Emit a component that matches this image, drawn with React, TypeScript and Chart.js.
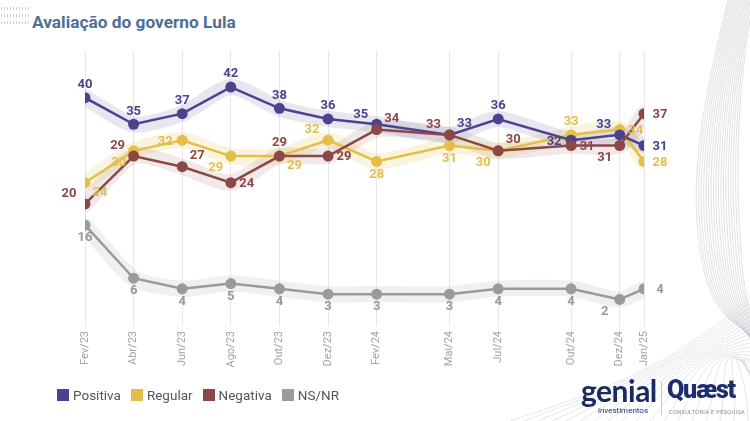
import React, { useEffect, useRef } from "react";
import { Chart, registerables } from "chart.js";
Chart.register(...registerables);

// ---- data ----
const monthIndex = [0, 2, 4, 6, 8, 10, 12, 15, 17, 20, 22, 23];
const tickLabels = ["Fev/23", "Abr/23", "Jun/23", "Ago/23", "Out/23", "Dez/23", "Fev/24", "Mai/24", "Jul/24", "Out/24", "Dez/24", "Jan/25"];
const positiva = [40, 35, 37, 42, 38, 36, 35, 33, 36, 32, 33, 31];
const regular = [24, 30, 32, 29, 29, 32, 28, 31, 30, 33, 34, 28];
const negativa = [20, 29, 27, 24, 29, 29, 34, 33, 30, 31, 31, 37];
const nsnr = [16, 6, 4, 5, 4, 3, 3, 3, 4, 4, 2, 4];

// label placement around each point (style)
const posLabelDir = ["n", "n", "n", "n", "n", "n", "nw", "ne", "n", "w", "nw", "e"];
const regLabelDir = ["se", "sw", "w", "sw", "se", "nw", "s", "s", "sw", "n", "e", "e"];
const negLabelDir = ["nw", "nw", "ne", "e", "n", "e", "ne", "nw", "ne", "e", "sw", "e"];
const nsLabelDir = ["s", "s", "s", "s", "s", "s", "s", "s", "s", "s", "sw", "e"];

const C_POS = "#4b438f";
const C_REG = "#e3bf48";
const C_NEG = "#8c4747";
const C_NS = "#9a9a9a";

const OFF: Record<string, [number, number]> = {
  n: [0, -13], s: [0, 13], e: [16, 1], w: [-17, 2],
  ne: [15, -11], nw: [-16, -10], se: [15, 10], sw: [-15, 12],
};

const toXY = (vals: number[]) => vals.map((v, i) => ({ x: monthIndex[i], y: v }));

const labelPlugin = {
  id: "pointLabels",
  afterDatasetsDraw(chart: any) {
    const ctx = chart.ctx;
    ctx.save();
    ctx.font = "bold 13px Roboto";
    ctx.textAlign = "center";
    ctx.textBaseline = "middle";
    chart.data.datasets.forEach((ds: any, di: number) => {
      if (!ds.labelDirs) return;
      const meta = chart.getDatasetMeta(di);
      meta.data.forEach((pt: any, i: number) => {
        const [dx, dy] = OFF[ds.labelDirs[i]];
        ctx.fillStyle = ds.labelColor;
        ctx.fillText(String(ds.data[i].y), pt.x + dx, pt.y + dy);
      });
    });
    ctx.restore();
  },
};

function band(data: number[], color: string) {
  return {
    data: toXY(data),
    borderColor: color,
    borderWidth: 16,
    borderJoinStyle: "round",
    borderCapStyle: "round",
    pointRadius: 0,
    tension: 0.25,
    order: 10,
  };
}

function line(data: number[], color: string, dirs: string[], order: number, labelColor?: string) {
  return {
    data: toXY(data),
    borderColor: color,
    backgroundColor: color,
    pointBackgroundColor: color,
    pointBorderColor: color,
    borderWidth: 2.5,
    pointRadius: 5.5,
    pointBorderWidth: 0,
    tension: 0,
    order,
    labelDirs: dirs,
    labelColor: labelColor || color,
  };
}

const legendItems = [
  { label: "Positiva", color: C_POS },
  { label: "Regular", color: C_REG },
  { label: "Negativa", color: C_NEG },
  { label: "NS/NR", color: C_NS },
];

function Waves() {
  const right: string[] = [];
  for (let i = 0; i < 18; i++) {
    right.push(
      `M ${728 + i * 1.5} 0 C ${706 + i * 1.8} 90, ${688 + i * 2.8} 170, ${700 + i * 2.4} 250 S ${746 + i} 320, ${756} ${345 + i * 2}`
    );
  }
  const bottom: string[] = [];
  for (let i = 0; i < 20; i++) {
    bottom.push(
      `M ${510 + i * 14} 421 C ${595 + i * 9} ${392 - i * 1.5}, ${668 + i * 3} ${372 - i * 2}, 756 ${292 + i * 5}`
    );
  }
  return (
    <svg width={750} height={421} style={{ position: "absolute", left: 0, top: 0, pointerEvents: "none" }}>
      {right.map((d, i) => (
        <path key={"r" + i} d={d} fill="none" stroke="#bfc5cc" strokeWidth={0.6} opacity={0.85} />
      ))}
      {bottom.map((d, i) => (
        <path key={"b" + i} d={d} fill="none" stroke="#c3c8ce" strokeWidth={0.6} opacity={0.75} />
      ))}
    </svg>
  );
}

export default function App() {
  const ref = useRef<HTMLCanvasElement | null>(null);
  useEffect(() => {
    if (!ref.current) return;
    const chart = new Chart(ref.current, {
      type: "line",
      data: {
        datasets: [
          band(positiva, "rgba(75,67,143,0.13)"),
          band(regular, "rgba(227,191,72,0.18)"),
          band(negativa, "rgba(140,71,71,0.12)"),
          band(nsnr, "rgba(150,150,150,0.14)"),
          line(negativa, C_NEG, negLabelDir, 0),
          line(positiva, C_POS, posLabelDir, 1),
          line(regular, C_REG, regLabelDir, 2),
          line(nsnr, C_NS, nsLabelDir, 3, "#999999"),
        ] as any,
      },
      options: {
        animation: false,
        responsive: true,
        maintainAspectRatio: false,
        layout: { padding: { left: 85, right: 106, top: 51, bottom: 0 } },
        plugins: { legend: { display: false }, tooltip: { enabled: false }, title: { display: false } },
        scales: {
          x: {
            type: "linear",
            min: 0,
            max: 23,
            border: { display: false },
            grid: { color: "#e7e7e7", lineWidth: 1, tickLength: 0, drawTicks: false },
            afterBuildTicks: (s: any) => {
              s.ticks = monthIndex.map((v) => ({ value: v }));
            },
            afterFit: (s: any) => {
              s.height = 95;
            },
            ticks: {
              autoSkip: false,
              maxRotation: 90,
              minRotation: 90,
              padding: 5,
              color: "#a3a3a3",
              font: { family: "Roboto", size: 11 },
              callback: (v: any) => {
                const idx = monthIndex.indexOf(Number(v));
                return idx >= 0 ? tickLabels[idx] : "";
              },
            },
          },
          y: {
            display: false,
            min: -3,
            max: 48.8,
          },
        },
      } as any,
      plugins: [labelPlugin],
    });
    return () => chart.destroy();
  }, []);

  return (
    <div style={{ position: "absolute", left: 0, top: 0, width: 750, height: 421, background: "#fff", overflow: "hidden", fontFamily: "Roboto" }}>
      <Waves />
      <div
        style={{
          position: "absolute", left: 0, top: 5, width: 30, height: 22,
          backgroundImage: "radial-gradient(#c8cdd3 0.6px, transparent 0.8px)",
          backgroundSize: "3px 7px", opacity: 0.9,
        }}
      />
      <div style={{ position: "absolute", left: 32, top: 12, fontSize: 17.3, fontWeight: 700, color: "#4f6e94", whiteSpace: "nowrap" }}>
        Avaliação do governo Lula
      </div>
      <div style={{ position: "absolute", left: 0, top: 0, width: 750, height: 421 }}>
        <canvas ref={ref} />
      </div>
      <div style={{ position: "absolute", left: 57, top: 387, display: "flex", alignItems: "center" }}>
        {legendItems.map((it) => (
          <div key={it.label} style={{ display: "flex", alignItems: "center", marginRight: 10 }}>
            <span style={{ display: "inline-block", width: 12, height: 12, background: it.color }} />
            <span style={{ marginLeft: 4, fontSize: 13.5, color: "#555" }}>{it.label}</span>
          </div>
        ))}
      </div>
      <div style={{ position: "absolute", left: 581, top: 373, fontFamily: "Lato", fontSize: 30, fontWeight: 700, color: "#1b2a5e", letterSpacing: -0.5, lineHeight: "34px" }}>
        genial
      </div>
      <div style={{ position: "absolute", left: 598, top: 406, fontSize: 8, color: "#1b2a5e", lineHeight: "10px" }}>
        investimentos
      </div>
      <div style={{ position: "absolute", left: 661, top: 382, width: 1, height: 33, background: "#c8c8c8" }} />
      <div style={{ position: "absolute", left: 667, top: 375, fontSize: 25, fontWeight: 900, color: "#1f2d6c", letterSpacing: -1.2, lineHeight: "30px" }}>
        Quæst
      </div>
      <div style={{ position: "absolute", left: 669, top: 409, fontSize: 5.5, color: "#888", letterSpacing: 0.4, lineHeight: "7px", whiteSpace: "nowrap" }}>
        CONSULTORIA E PESQUISA
      </div>
    </div>
  );
}
